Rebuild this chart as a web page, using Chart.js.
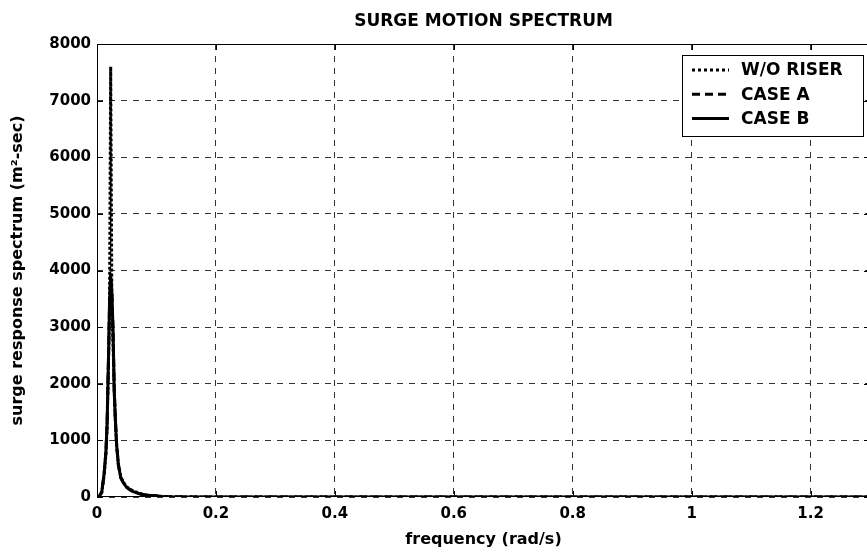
<!DOCTYPE html>
<html>
<head>
<meta charset="utf-8">
<script src="https://cdn.jsdelivr.net/npm/chart.js@4/dist/chart.umd.min.js"></script>
<style>
  html, body { margin: 0; padding: 0; background: #fff; overflow: hidden; }
</style>
</head>
<body>
<canvas id="c" width="875" height="554"></canvas>
<script>
// Surge motion spectrum - three runs on a shared frequency grid
const frequency = [0, 0.004, 0.008, 0.012, 0.015, 0.017, 0.019, 0.021, 0.023, 0.025, 0.027, 0.029, 0.031, 0.033, 0.036, 0.04, 0.045, 0.05, 0.055, 0.06, 0.07, 0.08, 0.09, 0.1, 0.11, 0.12, 0.15, 0.2, 0.3, 0.4, 0.5, 0.6, 0.7, 0.8, 0.9, 1.0, 1.1, 1.2, 1.3]
const withoutRiser = [0, 15, 80, 380, 750, 1250, 2200, 3200, 7600, 3400, 2700, 1900, 1300, 900, 580, 350, 250, 180, 140, 110, 70, 40, 28, 20, 10, 5, 2, 1, 0, 0, 0, 0, 0, 0, 0, 0, 0, 0, 0]
const caseA = [0, 15, 90, 410, 790, 1300, 2300, 3350, 3950, 3600, 2950, 1900, 1350, 930, 570, 340, 240, 175, 135, 105, 62, 37, 26, 19, 9, 4, 2, 1, 0, 0, 0, 0, 0, 0, 0, 0, 0, 0, 0]
const caseB = [0, 15, 90, 420, 800, 1300, 2300, 3400, 3890, 3600, 2950, 1850, 1350, 920, 560, 340, 240, 170, 130, 100, 60, 35, 25, 18, 8, 4, 2, 1, 0, 0, 0, 0, 0, 0, 0, 0, 0, 0, 0]
const seriesNames = ["W/O RISER", "CASE A", "CASE B"]
const xTicks = [0, 0.2, 0.4, 0.6, 0.8, 1, 1.2]
const yTicks = [0, 1000, 2000, 3000, 4000, 5000, 6000, 7000, 8000]

const FONT = "'DejaVu Sans', 'Liberation Sans', Arial, sans-serif"
const toPoints = (vals) => frequency.map((f, i) => ({ x: f, y: vals[i] }))

// box, inward ticks, title and legend drawn after the datasets
const frameAndLegend = {
  id: "frameAndLegend",
  afterDraw(chart) {
    const { ctx, chartArea: a, scales } = chart
    ctx.save()
    ctx.strokeStyle = "#000"
    ctx.lineWidth = 1
    ctx.setLineDash([])
    ctx.strokeRect(a.left + 0.5, a.top + 0.5, a.right - a.left - 1, a.bottom - a.top - 1)

    ctx.beginPath()
    xTicks.forEach(v => {
      const px = Math.round(scales.x.getPixelForValue(v)) + 0.5
      ctx.moveTo(px, a.bottom); ctx.lineTo(px, a.bottom - 6)
      ctx.moveTo(px, a.top); ctx.lineTo(px, a.top + 6)
    })
    yTicks.forEach(v => {
      const py = Math.round(scales.y.getPixelForValue(v)) + 0.5
      ctx.moveTo(a.left, py); ctx.lineTo(a.left + 6, py)
      ctx.moveTo(a.right, py); ctx.lineTo(a.right - 6, py)
    })
    ctx.stroke()

    // title
    ctx.fillStyle = "#000"
    ctx.font = "bold 17px " + FONT
    ctx.textAlign = "center"
    ctx.textBaseline = "middle"
    ctx.fillText("SURGE MOTION SPECTRUM", (a.left + a.right) / 2, 22)

    // legend
    const lx = a.right - 188, ly = a.top + 11, lw = 181, lh = 81
    ctx.fillStyle = "#fff"
    ctx.fillRect(lx, ly, lw, lh)
    ctx.strokeRect(lx + 0.5, ly + 0.5, lw, lh)
    ctx.font = "bold 17px " + FONT
    ctx.textAlign = "left"
    chart.data.datasets.forEach((ds, i) => {
      const cy = ly + 15 + i * 24.2
      ctx.strokeStyle = "#000"
      ctx.lineWidth = 3
      ctx.setLineDash(i === 0 ? [3, 3] : (ds.borderDash || []))
      ctx.beginPath()
      ctx.moveTo(lx + 10, cy)
      ctx.lineTo(lx + 47, cy)
      ctx.stroke()
      ctx.setLineDash([])
      ctx.fillStyle = "#000"
      ctx.fillText(ds.label, lx + 59, cy + 1)
    })
    ctx.restore()
  }
}

const gridOpts = { color: "#333", lineWidth: 1, drawTicks: false, borderDash: [6, 6] }
const borderOpts = { display: false, dash: [6, 6] }

new Chart(document.getElementById("c"), {
  type: "line",
  data: {
    datasets: [
      { label: seriesNames[0], data: toPoints(withoutRiser), borderDash: [3, 2], order: 0 },
      { label: seriesNames[1], data: toPoints(caseA), borderDash: [8, 5], order: 1 },
      { label: seriesNames[2], data: toPoints(caseB), order: 2 }
    ]
  },
  options: {
    responsive: false,
    animation: false,
    layout: { padding: { top: 44, right: 5, left: 0, bottom: 0 } },
    elements: {
      point: { radius: 0 },
      line: { tension: 0, borderColor: "#000", borderWidth: 3, fill: false }
    },
    plugins: {
      legend: { display: false },
      tooltip: { enabled: false },
      title: { display: false }
    },
    scales: {
      x: {
        type: "linear",
        min: 0,
        max: 1.3,
        afterFit: (s) => { s.height = 57 },
        ticks: {
          stepSize: 0.2,
          includeBounds: false,
          padding: 8,
          maxRotation: 0,
          autoSkip: false,
          color: "#000",
          font: { family: FONT, size: 15, weight: "bold" },
          callback: (v) => String(Math.round(v * 10) / 10)
        },
        grid: gridOpts,
        border: borderOpts,
        title: {
          display: true,
          text: "frequency (rad/s)",
          color: "#000",
          font: { family: FONT, size: 16, weight: "bold", lineHeight: 1.2 },
          padding: { top: 0, bottom: 5 }
        }
      },
      y: {
        min: 0,
        max: 8000,
        afterFit: (s) => { s.width = 97 },
        ticks: {
          stepSize: 1000,
          padding: 6,
          color: "#000",
          font: { family: FONT, size: 15, weight: "bold" },
          callback: (v) => String(v)
        },
        grid: gridOpts,
        border: borderOpts,
        title: {
          display: true,
          text: "surge response spectrum (m\u00B2-sec)",
          color: "#000",
          font: { family: FONT, size: 16, weight: "bold", lineHeight: 1.2 },
          padding: { top: 8, bottom: 0 }
        }
      }
    }
  },
  plugins: [frameAndLegend]
})
</script>
</body>
</html>
